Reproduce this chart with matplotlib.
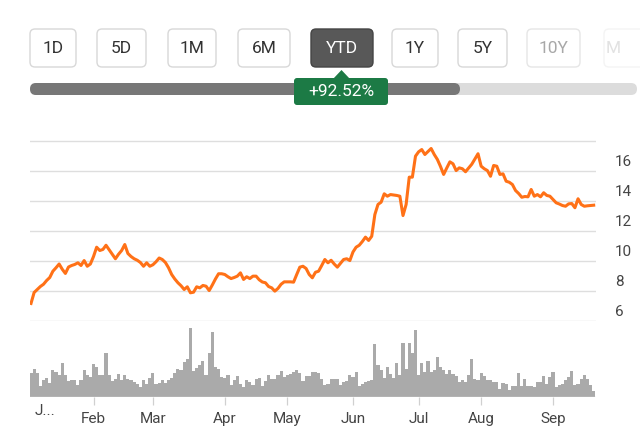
import numpy as np
import matplotlib
matplotlib.use("Agg")
import matplotlib.pyplot as plt
from matplotlib.patches import FancyBboxPatch, Polygon

plt.rcParams['font.family'] = ['Roboto', 'DejaVu Sans']

# trading days per month (Jan .. mid Sep)
months = ["J...", "Feb", "Mar", "Apr", "May", "Jun", "Jul", "Aug", "Sep"]
days_per_month = [20, 19, 23, 20, 21, 21, 20, 23, 14]

# daily close
close_jan = [7.17, 7.9, 8.1, 8.3, 8.45, 8.7, 8.9, 9.32, 9.55, 9.8, 9.45, 9.17, 9.6, 9.7, 9.77, 9.88, 9.7, 10.03, 9.65, 9.8]
close_feb = [10.3, 10.92, 10.7, 10.77, 11.05, 10.75, 10.45, 10.15, 10.45, 10.7, 11.1, 10.5, 10.3, 10.15, 10.05, 9.9, 9.65, 9.88, 9.65]
close_mar = [9.75, 9.95, 10.2, 10.1, 9.9, 9.55, 9.1, 8.8, 8.55, 8.35, 8.1, 8.28, 7.88, 7.92, 8.28, 8.21, 8.37, 8.32, 8.03, 8.4, 8.8, 9.15, 9.15]
close_apr = [9.1, 8.95, 8.83, 8.9, 8.99, 9.21, 8.77, 8.95, 8.83, 8.99, 8.99, 8.75, 8.6, 8.55, 8.3, 8.21, 7.99, 8.17, 8.45, 8.61]
close_may = [8.61, 8.61, 8.59, 9.1, 9.59, 9.65, 9.5, 9.1, 8.88, 9.25, 9.32, 9.7, 10.1, 9.88, 10.05, 9.8, 9.59, 9.85, 10.1, 10.15, 10.03]
close_jun = [10.6, 10.92, 11.05, 11.3, 11.59, 11.37, 11.65, 13.1, 13.77, 13.92, 14.48, 14.32, 14.43, 14.4, 14.37, 14.32, 13.03, 13.77, 15.59, 15.59, 16.99]
close_jul = [17.28, 17.43, 17.1, 17.3, 17.5, 17.1, 16.77, 16.3, 15.77, 16.2, 16.61, 16.48, 16.03, 16.21, 16.15, 15.95, 16.2, 16.45, 16.8, 17.15]
close_aug = [16.32, 16.15, 16.03, 15.65, 16.37, 16.32, 15.77, 15.81, 15.32, 15.25, 15.1, 14.7, 14.5, 14.25, 14.3, 14.28, 14.77, 14.32, 14.43, 14.28, 14.55, 14.37, 14.32]
close_sep = [14.1, 13.88, 13.8, 13.7, 13.65, 13.81, 13.83, 13.55, 14.15, 13.77, 13.65, 13.68, 13.7, 13.72]

# daily volume (relative units)
vol_jan = [72, 85, 73, 33, 50, 58, 42, 80, 75, 65, 102, 65, 47, 50, 50, 37, 50, 80, 65, 60]
vol_feb = [98, 90, 65, 65, 133, 65, 47, 55, 68, 50, 65, 55, 50, 45, 40, 30, 50, 40, 58]
vol_mar = [72, 40, 42, 50, 42, 50, 58, 72, 85, 80, 105, 115, 208, 79, 87, 97, 107, 67, 132, 195, 90, 85, 60]
vol_apr = [58, 67, 35, 50, 63, 40, 30, 50, 45, 35, 55, 58, 33, 47, 67, 55, 55, 65, 77, 60]
vol_may = [65, 70, 75, 80, 73, 47, 62, 62, 75, 75, 73, 55, 35, 38, 55, 55, 55, 37, 45, 47, 67]
vol_jun = [60, 75, 33, 40, 45, 47, 52, 160, 95, 80, 58, 90, 70, 58, 103, 65, 163, 85, 163, 132, 202]
vol_jul = [65, 102, 75, 107, 75, 80, 120, 90, 80, 70, 80, 70, 63, 45, 50, 45, 65, 115, 55, 52]
vol_aug = [72, 62, 52, 52, 45, 45, 25, 42, 40, 22, 33, 33, 72, 33, 55, 33, 33, 30, 45, 45, 62, 40, 60]
vol_sep = [75, 30, 35, 40, 50, 60, 77, 35, 40, 55, 65, 55, 37, 18]

price_ticks = [6, 8, 10, 12, 14, 16]
grid_levels = [6, 8, 10, 12, 14, 16, 18]

# last range button is cut by the screen edge, only its "M" shows
buttons = ["1D", "5D", "1M", "6M", "YTD", "1Y", "5Y", "10Y", "M"]
ytd_change = "+92.52%"

close = close_jan + close_feb + close_mar + close_apr + close_may + close_jun + close_jul + close_aug + close_sep
volume = vol_jan + vol_feb + vol_mar + vol_apr + vol_may + vol_jun + vol_jul + vol_aug + vol_sep
days = np.arange(len(close))
month_start = np.cumsum([0] + days_per_month[:-1])

W, H = 640, 447
fig = plt.figure(figsize=(W / 100, H / 100), dpi=100)

# overlay in pixel units for the buttons / range bar
ov = fig.add_axes([0, 0, 1, 1])
ov.set_xlim(0, W)
ov.set_ylim(H, 0)
ov.axis("off")

btn_left = [30, 97, 168, 238, 311, 392, 458, 527, 604]
btn_width = [46, 49, 48, 52, 62, 46, 49, 53, 60]
btn_text = ["#333333"] * 7 + ["#a8a8a8", "#e2e2e2"]
btn_edge = ["#d8d8d8"] * 7 + ["#e6e6e6", "#f4f4f4"]
for i, lab in enumerate(buttons):
    sel = lab == "YTD"
    box = FancyBboxPatch((btn_left[i], 29), btn_width[i], 38,
                         boxstyle="round,pad=0,rounding_size=5",
                         fc="#585858" if sel else "white",
                         ec="#444444" if sel else btn_edge[i], lw=1)
    ov.add_patch(box)
    if i == len(buttons) - 1:
        ov.text(btn_left[i] + 2, 48.5, lab, ha="left", va="center",
                fontsize=12.5, color=btn_text[i])
    else:
        ov.text(btn_left[i] + btn_width[i] / 2, 48.5, lab, ha="center", va="center",
                fontsize=12.5, color="white" if sel else btn_text[i])

# range bar
ov.add_patch(FancyBboxPatch((30, 83), 607, 12, boxstyle="round,pad=0,rounding_size=6",
                            fc="#dcdcdc", ec="none"))
ov.add_patch(FancyBboxPatch((30, 83), 430, 12, boxstyle="round,pad=0,rounding_size=6",
                            fc="#777777", ec="none"))
# change badge
ov.add_patch(FancyBboxPatch((294, 78), 94, 27, boxstyle="round,pad=0,rounding_size=3",
                            fc="#1c7a45", ec="none"))
ov.add_patch(Polygon([(333, 79), (350, 79), (341.5, 70)], closed=True, fc="#1c7a45", ec="none"))
ov.text(341, 92, ytd_change, ha="center", va="center", fontsize=12.5, color="white")

# price panel
px0, px1 = 30, 596
ppd = 3.126
x_lo = (px0 - 31) / ppd
x_hi = (px1 - 31) / ppd

ax = fig.add_axes([px0 / W, 1 - 321 / H, (px1 - px0) / W, (321 - 130) / H])
ax.set_xlim(x_lo, x_hi)
ax.set_ylim(6, 18 + 11 / 15)
for g in grid_levels:
    ax.axhline(g, color="#dedede", lw=1.0, zorder=1)
ax.plot(days, close, color="#ff7117", lw=2.2, solid_joinstyle="round", zorder=3)
ax.axis("off")
for v in price_ticks:
    ax.text((615 - px0) / (px1 - px0), v + 0.58, str(v),
            transform=ax.get_yaxis_transform(), ha="left", va="center",
            fontsize=11, color="#444444", clip_on=False)

# volume panel
vax = fig.add_axes([px0 / W, 1 - 397 / H, (px1 - px0) / W, 76 / H])
vax.set_xlim(x_lo, x_hi)
vax.set_ylim(0, 228)
vax.bar(days, volume, width=1.0, color="#aaaaaa", lw=0, zorder=2)
vax.axhline(0, color="#dddddd", lw=1.0, zorder=3)
for s in vax.spines.values():
    s.set_visible(False)
vax.set_yticks([])
vax.set_xticks(month_start[1:])
vax.set_xticklabels(months[1:])
vax.tick_params(axis="x", length=6, width=0.9, color="#d0d0d0", pad=5,
                labelsize=11, labelcolor="#444444")
vax.text(1.2, -22, months[0], ha="left", va="top", fontsize=11, color="#444444",
         transform=vax.transData, clip_on=False)

fig.savefig("out.png", dpi=100)
